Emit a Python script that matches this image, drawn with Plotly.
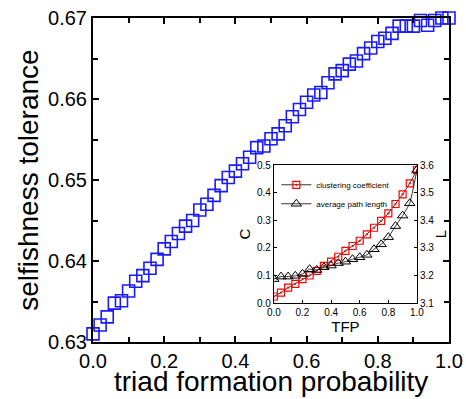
import plotly.graph_objects as go

# Main series: triad formation probability vs selfishness tolerance
tfp_main = [round(i * 0.02, 2) for i in range(51)]
selfishness = [
    0.6310, 0.6321, 0.6331, 0.6348, 0.6351, 0.6363, 0.6375, 0.6382, 0.6391, 0.6402,
    0.6415, 0.6424, 0.6434, 0.6443, 0.6450, 0.6463, 0.6470, 0.6481, 0.6493, 0.6503,
    0.6511, 0.6520, 0.6528, 0.6540, 0.6542, 0.6551, 0.6557, 0.6567, 0.6578, 0.6587,
    0.6596, 0.6605, 0.6608, 0.6620, 0.6631, 0.6635, 0.6643, 0.6647, 0.6656, 0.6663,
    0.6671, 0.6675, 0.6681, 0.6690, 0.6690, 0.6690, 0.6697, 0.6691, 0.6697, 0.6700,
    0.6700,
]

# Inset series
tfp_inset = [round(i * 0.05, 2) for i in range(21)]
clustering = [
    0.024, 0.038, 0.056, 0.070, 0.087, 0.100, 0.117, 0.135, 0.150, 0.168,
    0.189, 0.207, 0.226, 0.249, 0.273, 0.298, 0.325, 0.359, 0.394, 0.434, 0.482,
]
path_length = [
    3.187, 3.196, 3.196, 3.199, 3.206, 3.223, 3.220, 3.230, 3.236, 3.245,
    3.250, 3.259, 3.266, 3.275, 3.295, 3.313, 3.339, 3.379, 3.417, 3.462, 3.582,
]

FONT = "Arial, Liberation Sans, sans-serif"

fig = go.Figure()

fig.add_trace(go.Scatter(
    x=tfp_main, y=selfishness, mode="markers",
    marker=dict(symbol="square-open", size=12, color="#1a1aff",
                line=dict(width=1.6, color="#1a1aff")),
    showlegend=False, cliponaxis=False, xaxis="x", yaxis="y",
))

fig.add_trace(go.Scatter(
    x=tfp_inset, y=clustering, mode="lines+markers",
    name="clustering coefficient",
    line=dict(color="black", width=0.8),
    marker=dict(symbol="square-open-dot", size=7, color="red",
                line=dict(width=1.2, color="red")),
    xaxis="x2", yaxis="y2",
))

fig.add_trace(go.Scatter(
    x=tfp_inset, y=path_length, mode="lines+markers",
    name="average path length",
    line=dict(color="black", width=0.8, shape="spline", smoothing=0.4),
    marker=dict(symbol="triangle-up-open", size=9, color="black",
                line=dict(width=1, color="black")),
    xaxis="x2", yaxis="y3",
))

fig.update_layout(
    width=466, height=399,
    margin=dict(l=93, r=17, t=18, b=57, autoexpand=False),
    paper_bgcolor="white", plot_bgcolor="white",
    font=dict(family=FONT, color="black"),
    xaxis=dict(
        domain=[0, 1], range=[0, 1], dtick=0.2, tickformat=".1f",
        ticks="inside", ticklen=6, tickwidth=1.5, tickcolor="black",
        minor=dict(dtick=0.1, ticks="inside", ticklen=5, tickwidth=1.5, tickcolor="black"),
        showline=True, linewidth=2, linecolor="black", mirror="ticks",
        showgrid=False, zeroline=False, automargin=False,
        tickfont=dict(size=20),
    ),
    yaxis=dict(
        domain=[0, 1], range=[0.63, 0.67], dtick=0.01, tickformat=".2f",
        ticks="inside", ticklen=6, tickwidth=1.5, tickcolor="black",
        minor=dict(dtick=0.005, ticks="inside", ticklen=5, tickwidth=1.5, tickcolor="black"),
        showline=True, linewidth=2, linecolor="black", mirror="ticks",
        showgrid=False, zeroline=False, automargin=False,
        tickfont=dict(size=20),
    ),
    xaxis2=dict(
        domain=[0.508, 0.910], anchor="y2", range=[0, 1], dtick=0.2, tickformat=".1f",
        ticks="inside", ticklen=3, tickcolor="black",
        showline=True, linewidth=1, linecolor="black", mirror=True,
        showgrid=False, zeroline=False, automargin=False,
        tickfont=dict(size=10),
        title=dict(text="TFP", font=dict(size=15), standoff=0),
    ),
    yaxis2=dict(
        domain=[0.120, 0.546], anchor="x2", range=[0, 0.5], dtick=0.1, tickformat=".1f",
        ticks="inside", ticklen=3, tickcolor="black",
        showline=True, linewidth=1, linecolor="black",
        showgrid=False, zeroline=False, automargin=False,
        tickfont=dict(size=10),
        title=dict(text="C", font=dict(size=15), standoff=2),
    ),
    yaxis3=dict(
        domain=[0.120, 0.546], anchor="x2", overlaying="y2", side="right",
        range=[3.1, 3.6], dtick=0.1, tickformat=".1f",
        ticks="inside", ticklen=3, tickcolor="black",
        showline=True, linewidth=1, linecolor="black",
        showgrid=False, zeroline=False, automargin=False,
        tickfont=dict(size=10),
        title=dict(text="L", font=dict(size=15), standoff=2),
    ),
    legend=dict(
        x=0.515, y=0.53, xanchor="left", yanchor="top",
        bgcolor="rgba(0,0,0,0)", borderwidth=0,
        font=dict(size=8), itemwidth=30, tracegroupgap=0,
    ),
    annotations=[
        dict(text="triad formation probability", xref="paper", yref="paper",
             x=0.5, y=-0.122, xanchor="center", yanchor="middle",
             showarrow=False, font=dict(size=28)),
        dict(text="selfishness tolerance", xref="paper", yref="paper",
             x=-0.183, y=0.5, xanchor="center", yanchor="middle", textangle=-90,
             showarrow=False, font=dict(size=28)),
    ],
)

fig.write_html(
    "out.html",
    config={"displayModeBar": False},
    post_script="document.body.style.margin='0';document.body.style.overflow='hidden';",
)
